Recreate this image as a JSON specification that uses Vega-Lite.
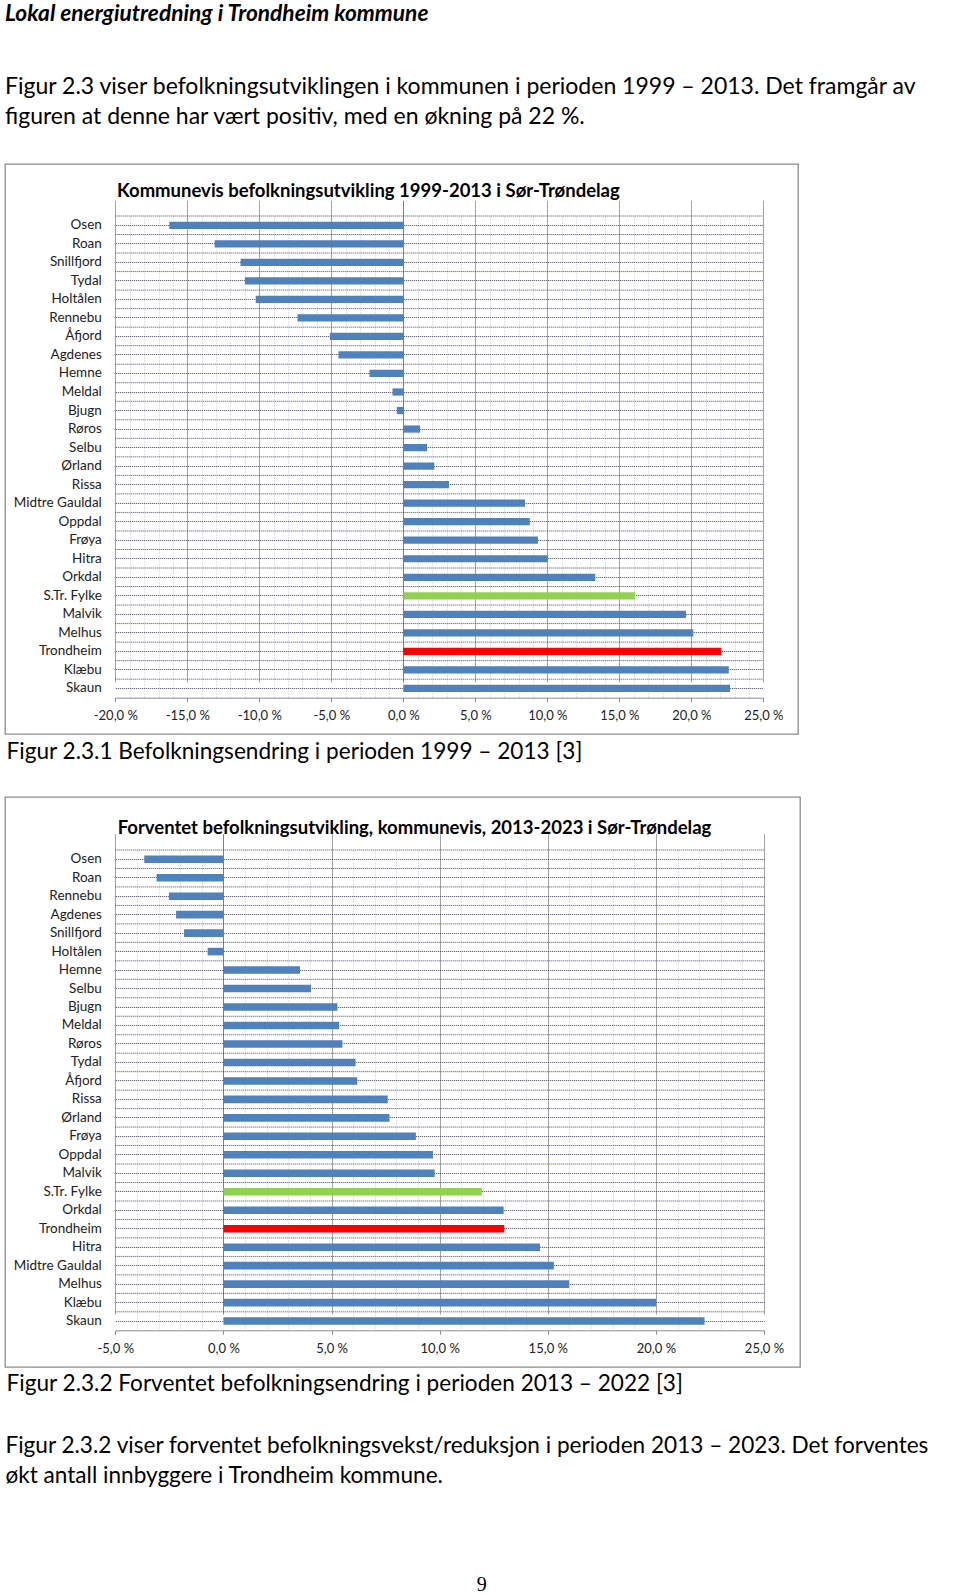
{
  "$schema": "https://vega.github.io/schema/vega-lite/v6.json",
  "background": "white",
  "padding": {"left": 4, "top": 3, "right": 0, "bottom": 0},
  "bounds": "flush",
  "spacing": 63,
  "title": {
    "text": "Lokal energiutredning i Trondheim kommune",
    "subtitle": ["Figur 2.3 viser befolkningsutviklingen i kommunen i perioden 1999 – 2013. Det framgår av", "figuren at denne har vært positiv, med en økning på 22 %."],
    "anchor": "start",
    "frame": "group",
    "baseline": "top",
    "offset": 34.5,
    "font": "Lato",
    "fontSize": 22.7,
    "fontStyle": "italic",
    "fontWeight": "bold",
    "color": "#000000",
    "subtitleFont": "Lato",
    "subtitleFontSize": 23,
    "subtitleFontWeight": "normal",
    "subtitleColor": "#000000",
    "subtitleLineHeight": 29.4,
    "subtitlePadding": 50.4
  },
  "datasets": {
    "d1": [
      {"name": "Osen", "value": -16.25, "kind": "kommune"},
      {"name": "Roan", "value": -13.1, "kind": "kommune"},
      {"name": "Snillfjord", "value": -11.3, "kind": "kommune"},
      {"name": "Tydal", "value": -11.0, "kind": "kommune"},
      {"name": "Holtålen", "value": -10.25, "kind": "kommune"},
      {"name": "Rennebu", "value": -7.35, "kind": "kommune"},
      {"name": "Åfjord", "value": -5.1, "kind": "kommune"},
      {"name": "Agdenes", "value": -4.5, "kind": "kommune"},
      {"name": "Hemne", "value": -2.35, "kind": "kommune"},
      {"name": "Meldal", "value": -0.75, "kind": "kommune"},
      {"name": "Bjugn", "value": -0.45, "kind": "kommune"},
      {"name": "Røros", "value": 1.17, "kind": "kommune"},
      {"name": "Selbu", "value": 1.65, "kind": "kommune"},
      {"name": "Ørland", "value": 2.15, "kind": "kommune"},
      {"name": "Rissa", "value": 3.17, "kind": "kommune"},
      {"name": "Midtre Gauldal", "value": 8.45, "kind": "kommune"},
      {"name": "Oppdal", "value": 8.78, "kind": "kommune"},
      {"name": "Frøya", "value": 9.35, "kind": "kommune"},
      {"name": "Hitra", "value": 10.03, "kind": "kommune"},
      {"name": "Orkdal", "value": 13.33, "kind": "kommune"},
      {"name": "S.Tr. Fylke", "value": 16.09, "kind": "fylke"},
      {"name": "Malvik", "value": 19.63, "kind": "kommune"},
      {"name": "Melhus", "value": 20.14, "kind": "kommune"},
      {"name": "Trondheim", "value": 22.08, "kind": "trondheim"},
      {"name": "Klæbu", "value": 22.6, "kind": "kommune"},
      {"name": "Skaun", "value": 22.69, "kind": "kommune"}
    ],
    "d2": [
      {"name": "Osen", "value": -3.66, "kind": "kommune"},
      {"name": "Roan", "value": -3.09, "kind": "kommune"},
      {"name": "Rennebu", "value": -2.52, "kind": "kommune"},
      {"name": "Agdenes", "value": -2.19, "kind": "kommune"},
      {"name": "Snillfjord", "value": -1.82, "kind": "kommune"},
      {"name": "Holtålen", "value": -0.73, "kind": "kommune"},
      {"name": "Hemne", "value": 3.54, "kind": "kommune"},
      {"name": "Selbu", "value": 4.05, "kind": "kommune"},
      {"name": "Bjugn", "value": 5.27, "kind": "kommune"},
      {"name": "Meldal", "value": 5.35, "kind": "kommune"},
      {"name": "Røros", "value": 5.5, "kind": "kommune"},
      {"name": "Tydal", "value": 6.11, "kind": "kommune"},
      {"name": "Åfjord", "value": 6.19, "kind": "kommune"},
      {"name": "Rissa", "value": 7.6, "kind": "kommune"},
      {"name": "Ørland", "value": 7.68, "kind": "kommune"},
      {"name": "Frøya", "value": 8.9, "kind": "kommune"},
      {"name": "Oppdal", "value": 9.69, "kind": "kommune"},
      {"name": "Malvik", "value": 9.77, "kind": "kommune"},
      {"name": "S.Tr. Fylke", "value": 11.95, "kind": "fylke"},
      {"name": "Orkdal", "value": 12.96, "kind": "kommune"},
      {"name": "Trondheim", "value": 12.99, "kind": "trondheim"},
      {"name": "Hitra", "value": 14.64, "kind": "kommune"},
      {"name": "Midtre Gauldal", "value": 15.28, "kind": "kommune"},
      {"name": "Melhus", "value": 15.99, "kind": "kommune"},
      {"name": "Klæbu", "value": 20.01, "kind": "kommune"},
      {"name": "Skaun", "value": 22.25, "kind": "kommune"}
    ]
  },
  "resolve": {"scale": {"x": "independent", "y": "independent"}},
  "vconcat": [
    {
      "width": 793,
      "height": 570,
      "data": {"name": "d1"},
      "title": {
        "text": "Kommunevis befolkningsutvikling 1999-2013 i Sør-Trøndelag",
        "anchor": "start",
        "frame": "group",
        "offset": -36,
        "dx": 112,
        "font": "Lato",
        "fontSize": 18.5,
        "fontWeight": "bold",
        "color": "#000000"
      },
      "resolve": {"axis": {"x": "independent"}},
      "layer": [
        {
          "mark": {"type": "rule", "color": "#46466a", "strokeDash": [1, 1], "strokeWidth": 1},
          "encoding": {
            "y": {"field": "name", "type": "nominal", "bandPosition": 0,
              "scale": {"domain": ["Osen","Roan","Snillfjord","Tydal","Holtålen","Rennebu","Åfjord","Agdenes","Hemne","Meldal","Bjugn","Røros","Selbu","Ørland","Rissa","Midtre Gauldal","Oppdal","Frøya","Hitra","Orkdal","S.Tr. Fylke","Malvik","Melhus","Trondheim","Klæbu","Skaun"], "range": [52, 533.7], "paddingInner": 0, "paddingOuter": 0}},
            "x": {"datum": -20, "type": "quantitative",
              "scale": {"domain": [-20, 25], "range": [110.3, 758.3], "nice": false},
              "axis": {"orient": "top", "values": [-19,-18,-17,-16,-14,-13,-12,-11,-9,-8,-7,-6,-4,-3,-2,-1,1,2,3,4,6,7,8,9,11,12,13,14,16,17,18,19,21,22,23,24], "grid": true, "gridColor": "#bfcadf", "gridDash": [1, 2], "gridWidth": 1, "labels": false, "ticks": false, "domain": false, "title": null, "labelOverlap": false}},
            "x2": {"datum": 25}
          }
        },
        {
          "mark": {"type": "bar", "height": {"band": 0.39}},
          "encoding": {
            "y": {"field": "name", "type": "nominal",
              "scale": {"domain": ["Osen","Roan","Snillfjord","Tydal","Holtålen","Rennebu","Åfjord","Agdenes","Hemne","Meldal","Bjugn","Røros","Selbu","Ørland","Rissa","Midtre Gauldal","Oppdal","Frøya","Hitra","Orkdal","S.Tr. Fylke","Malvik","Melhus","Trondheim","Klæbu","Skaun"], "range": [52, 533.7], "paddingInner": 0, "paddingOuter": 0},
              "axis": {"offset": -110.3, "domain": false, "ticks": false, "grid": true, "gridColor": "#46466a", "gridDash": [1, 1], "gridWidth": 1, "labelFont": "Lato", "labelFontSize": 13.5, "labelColor": "#222222", "labelPadding": 14,
                "title": "9", "titleAngle": 0, "titleX": 366, "titleY": 1426, "titleAlign": "center", "titleBaseline": "alphabetic", "titleFont": "Liberation Serif", "titleFontSize": 20, "titleFontWeight": "normal", "titleColor": "#000000"}},
            "x": {"field": "value", "type": "quantitative",
              "scale": {"domain": [-20, 25], "range": [110.3, 758.3], "nice": false},
              "axis": {
                "orient": "bottom",
                "values": [-20, -15, -10, -5, 0, 5, 10, 15, 20, 25],
                "offset": -36.3,
                "domainColor": "#8c8c8c",
                "grid": true,
                "gridColor": {"condition": {"test": "datum.value === 0", "value": "#808080"}, "value": "#a3a3a3"},
                "gridWidth": 1,
                "tickSize": 4,
                "tickColor": "#8c8c8c",
                "labelExpr": "(datum.value < 0 ? '-' : '') + replace(format(abs(datum.value), '.1f'), '.', ',') + ' %'",
                "labelOverlap": false,
                "labelFlush": false,
                "labelFont": "Lato",
                "labelFontSize": 13,
                "labelColor": "#222222",
                "labelPadding": 8,
                "title": "Figur 2.3.1 Befolkningsendring i perioden 1999 – 2013 [3]",
                "titleX": 1,
                "titleY": 61,
                "titleAlign": "left",
                "titleBaseline": "alphabetic",
                "titleFont": "Lato",
                "titleFontSize": 22.6,
                "titleFontWeight": "normal",
                "titleColor": "#000000"
              }},
            "color": {"field": "kind", "type": "nominal", "scale": {"domain": ["kommune", "fylke", "trondheim"], "range": ["#4f81bd", "#92d050", "#ff0000"]}, "legend": null}
          }
        }
      ]
    },
    {
      "width": 795,
      "height": 570,
      "data": {"name": "d2"},
      "title": {
        "text": "Forventet befolkningsutvikling, kommunevis, 2013-2023 i Sør-Trøndelag",
        "anchor": "start",
        "frame": "group",
        "offset": -40,
        "dx": 112.7,
        "font": "Lato",
        "fontSize": 18.5,
        "fontWeight": "bold",
        "color": "#000000"
      },
      "resolve": {"axis": {"x": "independent"}},
      "layer": [
        {
          "mark": {"type": "rule", "color": "#46466a", "strokeDash": [1, 1], "strokeWidth": 1},
          "encoding": {
            "y": {"field": "name", "type": "nominal", "bandPosition": 0,
              "scale": {"domain": ["Osen","Roan","Rennebu","Agdenes","Snillfjord","Holtålen","Hemne","Selbu","Bjugn","Meldal","Røros","Tydal","Åfjord","Rissa","Ørland","Frøya","Oppdal","Malvik","S.Tr. Fylke","Orkdal","Trondheim","Hitra","Midtre Gauldal","Melhus","Klæbu","Skaun"], "range": [53, 533.3], "paddingInner": 0, "paddingOuter": 0}},
            "x": {"datum": -5, "type": "quantitative",
              "scale": {"domain": [-5, 25], "range": [110.3, 759], "nice": false},
              "axis": {"orient": "top", "values": [-4,-3,-2,-1,1,2,3,4,6,7,8,9,11,12,13,14,16,17,18,19,21,22,23,24], "grid": true, "gridColor": "#bfcadf", "gridDash": [1, 2], "gridWidth": 1, "labels": false, "ticks": false, "domain": false, "title": null, "labelOverlap": false}},
            "x2": {"datum": 25}
          }
        },
        {
          "mark": {"type": "bar", "height": {"band": 0.41}},
          "encoding": {
            "y": {"field": "name", "type": "nominal",
              "scale": {"domain": ["Osen","Roan","Rennebu","Agdenes","Snillfjord","Holtålen","Hemne","Selbu","Bjugn","Meldal","Røros","Tydal","Åfjord","Rissa","Ørland","Frøya","Oppdal","Malvik","S.Tr. Fylke","Orkdal","Trondheim","Hitra","Midtre Gauldal","Melhus","Klæbu","Skaun"], "range": [53, 533.3], "paddingInner": 0, "paddingOuter": 0},
              "axis": {"offset": -110.3, "domain": false, "ticks": false, "grid": true, "gridColor": "#46466a", "gridDash": [1, 1], "gridWidth": 1, "labelFont": "Lato", "labelFontSize": 13.5, "labelColor": "#222222", "labelPadding": 14,
                "title": ["Figur 2.3.2 viser forventet befolkningsvekst/reduksjon i perioden 2013 – 2023. Det forventes", "økt antall innbyggere i Trondheim kommune."],
                "titleAngle": 0, "titleX": -110.4, "titleY": 655.6, "titleAlign": "left", "titleBaseline": "alphabetic", "titleLineHeight": 30.4, "titleFont": "Lato", "titleFontSize": 22.6, "titleFontWeight": "normal", "titleColor": "#000000"}},
            "x": {"field": "value", "type": "quantitative",
              "scale": {"domain": [-5, 25], "range": [110.3, 759], "nice": false},
              "axis": {
                "orient": "bottom",
                "values": [-5, 0, 5, 10, 15, 20, 25],
                "offset": -36.7,
                "domainColor": "#8c8c8c",
                "grid": true,
                "gridColor": {"condition": {"test": "datum.value === 0", "value": "#808080"}, "value": "#a3a3a3"},
                "gridWidth": 1,
                "tickSize": 4,
                "tickColor": "#8c8c8c",
                "labelExpr": "(datum.value < 0 ? '-' : '') + replace(format(abs(datum.value), '.1f'), '.', ',') + ' %'",
                "labelOverlap": false,
                "labelFlush": false,
                "labelFont": "Lato",
                "labelFontSize": 13,
                "labelColor": "#222222",
                "labelPadding": 8,
                "title": "Figur 2.3.2 Forventet befolkningsendring i perioden 2013 – 2022 [3]",
                "titleX": 1,
                "titleY": 60.3,
                "titleAlign": "left",
                "titleBaseline": "alphabetic",
                "titleFont": "Lato",
                "titleFontSize": 22.6,
                "titleFontWeight": "normal",
                "titleColor": "#000000"
              }},
            "color": {"field": "kind", "type": "nominal", "scale": {"domain": ["kommune", "fylke", "trondheim"], "range": ["#4f81bd", "#92d050", "#ff0000"]}, "legend": null}
          }
        }
      ]
    }
  ],
  "config": {
    "view": {"stroke": "#8c8c8c", "strokeWidth": 1.3},
    "font": "Lato"
  }
}
